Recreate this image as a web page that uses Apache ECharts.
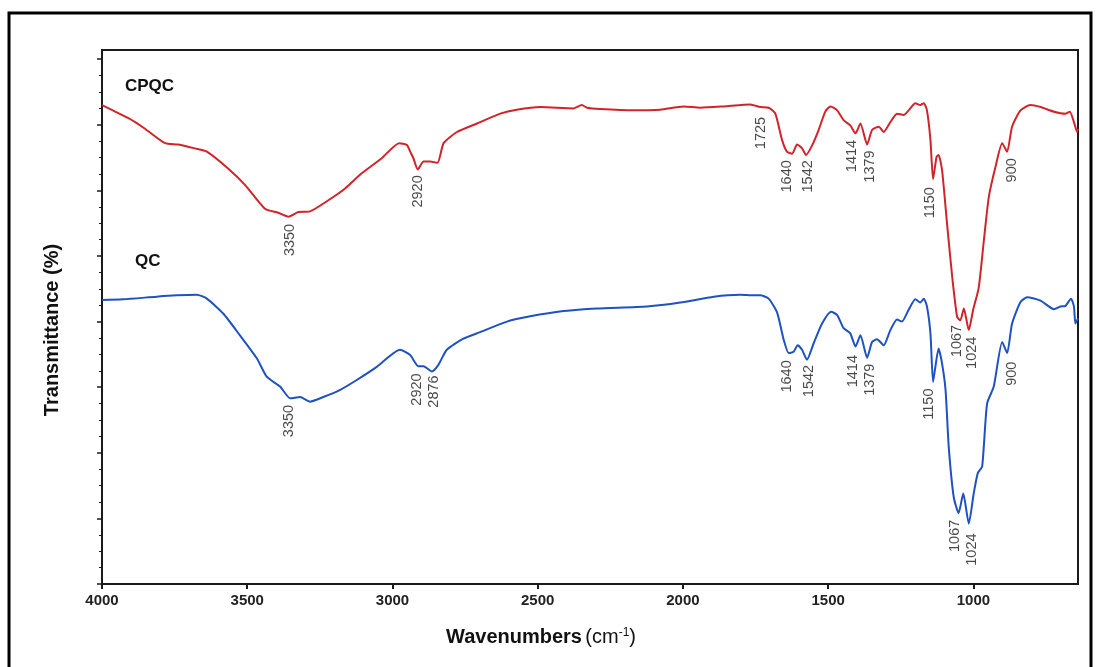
<!DOCTYPE html>
<html>
<head>
<meta charset="utf-8">
<script src="https://cdn.jsdelivr.net/npm/echarts@6/dist/echarts.min.js"></script>
<style>html,body{margin:0;padding:0;background:#fff}#c{width:1099px;height:667px}</style>
</head>
<body>
<div id="c"></div>
<script>
// ---- data (wavenumber cm-1, transmittance in arbitrary % units) ----
const xTicks = [4000, 3500, 3000, 2500, 2000, 1500, 1000];
const yMajorTicks = [0, 10, 20, 30, 40, 50, 60, 70, 80];

const cpqcSpectrum = [
  [4000,73.0],[3909,71.0],[3852,69.4],[3783,67.2],[3737,67.0],[3680,66.4],[3639,65.9],[3565,63.3],
  [3507,60.8],[3439,57.2],[3393,56.6],[3358,56.0],[3324,56.7],[3284,56.8],[3221,58.5],[3163,60.3],
  [3106,62.6],[3037,64.9],[2977,67.2],[2950,66.9],[2939,65.9],[2928,64.9],[2913,63.2],[2893,64.4],
  [2870,64.4],[2845,64.2],[2824,67.2],[2778,68.9],[2709,70.2],[2629,71.7],[2572,72.3],[2491,72.7],
  [2377,72.5],[2348,73.0],[2330,72.6],[2285,72.4],[2170,72.2],[2078,72.3],[1998,72.8],[1940,72.6],
  [1860,72.8],[1768,73.1],[1734,72.7],[1705,72.6],[1682,71.7],[1659,67.7],[1642,65.9],[1624,65.6],
  [1607,67.0],[1590,66.4],[1576,65.4],[1555,66.9],[1533,69.2],[1510,72.0],[1492,72.8],[1469,72.2],
  [1447,70.7],[1424,69.9],[1406,68.7],[1389,70.2],[1366,67.0],[1349,69.2],[1326,69.7],[1309,68.9],
  [1286,70.4],[1263,71.7],[1240,71.5],[1223,72.2],[1200,73.3],[1183,73.0],[1171,73.3],[1160,72.2],
  [1148,67.7],[1139,61.7],[1127,65.1],[1120,65.4],[1108,63.1],[1091,55.0],[1073,46.8],[1056,40.7],
  [1045,40.2],[1033,42.0],[1016,38.7],[1001,41.8],[982,45.1],[964,52.4],[947,59.0],[924,63.6],
  [901,67.2],[884,65.9],[867,69.7],[838,72.2],[804,73.0],[769,72.7],[723,72.0],[683,71.7],
  [668,72.0],[654,70.4],[643,68.9],[640,69.4]
];

const qcSpectrum = [
  [4000,43.3],[3927,43.4],[3812,43.8],[3743,44.0],[3674,44.1],[3639,43.5],[3582,41.2],[3525,37.9],
  [3467,34.4],[3433,31.6],[3387,30.1],[3352,28.3],[3318,28.5],[3284,27.8],[3238,28.5],[3180,29.6],
  [3123,31.1],[3054,33.1],[2974,35.7],[2939,34.9],[2911,33.2],[2893,33.2],[2864,32.4],[2842,33.4],
  [2813,35.7],[2756,37.4],[2698,38.4],[2606,40.0],[2526,40.8],[2411,41.6],[2296,42.0],[2124,42.3],
  [2009,42.9],[1894,43.8],[1802,44.1],[1757,44.0],[1734,44.0],[1705,43.5],[1676,41.4],[1653,37.2],
  [1636,35.2],[1619,35.4],[1605,36.4],[1590,35.7],[1573,34.2],[1550,36.7],[1521,39.7],[1490,41.5],
  [1469,41.0],[1447,39.0],[1424,38.2],[1406,36.2],[1389,37.9],[1366,34.5],[1349,36.9],[1332,37.3],
  [1309,36.4],[1286,38.7],[1263,40.3],[1246,40.0],[1223,41.8],[1200,43.4],[1183,42.9],[1171,43.5],
  [1160,42.3],[1148,38.2],[1139,30.8],[1131,33.1],[1120,35.9],[1108,33.6],[1096,29.6],[1085,20.9],
  [1068,13.3],[1051,10.8],[1035,13.8],[1016,9.2],[999,13.8],[985,16.9],[970,17.9],[953,27.5],
  [930,30.1],[901,36.9],[884,35.2],[867,39.7],[838,43.0],[815,43.7],[769,43.2],[723,41.9],
  [700,42.3],[683,42.4],[664,43.5],[654,42.3],[649,39.7],[640,40.5]
];

// peak annotations: [wavenumber position, label top (y units), text]
const cpqcPeaks = [
  [3352,54.9,'3350'],[2913,62.3,'2920'],[1730,71.2,'1725'],[1642,64.6,'1640'],[1571,64.6,'1542'],
  [1417,67.7,'1414'],[1355,66.1,'1379'],[1148,60.5,'1150'],[1056,39.5,'1067'],[1004,37.7,'1024'],
  [867,64.9,'900']
];
const qcPeaks = [
  [3355,27.3,'3350'],[2916,32.1,'2920'],[2856,31.8,'2876'],[1642,34.1,'1640'],[1567,33.4,'1542'],
  [1416,34.9,'1414'],[1355,33.6,'1379'],[1154,29.8,'1150'],[1062,9.8,'1067'],[1004,7.7,'1024'],
  [867,33.9,'900']
];
const seriesNames = ['CPQC', 'QC'];

// ---- chart ----
const FONT = '"Liberation Sans", Arial, Helvetica, sans-serif';
const AX = '#1a1a1a';
const chart = echarts.init(document.getElementById('c'), null, {renderer: 'canvas'});

function peakSeries(peaks) {
  return {
    type: 'scatter',
    silent: true,
    symbolSize: 1,
    itemStyle: {color: 'rgba(0,0,0,0)'},
    data: peaks.map(p => ({value: [p[0], p[1]], name: p[2]})),
    label: {
      show: true,
      position: 'inside',
      rotate: 90,
      align: 'right',
      verticalAlign: 'middle',
      formatter: '{b}',
      color: '#1a1a1a',
      fontSize: 14.5,
      fontFamily: FONT
    },
    z: 5
  };
}

const option = {
  animation: false,
  backgroundColor: '#fff',
  grid: {left: 102, top: 50, right: 21, bottom: 83, show: true, borderColor: AX, borderWidth: 2, backgroundColor: 'transparent'},
  xAxis: {
    type: 'value', inverse: true, min: 640, max: 4000,
    axisLine: {show: true, onZero: false, lineStyle: {color: AX, width: 2}},
    axisTick: {show: true, customValues: xTicks, length: 5, lineStyle: {color: AX, width: 2}},
    axisLabel: {customValues: xTicks, formatter: v => String(v), color: '#222', fontWeight: 'bold', fontSize: 15, fontFamily: FONT, margin: 9},
    splitLine: {show: false}
  },
  yAxis: {
    type: 'value', min: 0, max: 81.4, interval: 10,
    axisLine: {show: true, onZero: false, lineStyle: {color: AX, width: 2}},
    axisTick: {show: true, customValues: yMajorTicks, length: 5, lineStyle: {color: AX, width: 1.5}},
    minorTick: {show: true, splitNumber: 4, length: 3, lineStyle: {color: AX, width: 1}},
    axisLabel: {show: false},
    splitLine: {show: false}
  },
  graphic: [
    {type: 'rect', silent: true, shape: {x: 9, y: 13, width: 1082, height: 700},
     style: {fill: 'none', stroke: '#000', lineWidth: 3}},
    {type: 'text', silent: true, x: 125, y: 86,
     style: {text: seriesNames[0], fontSize: 17, fontWeight: 'bold', fontFamily: FONT, fill: '#111', align: 'left', verticalAlign: 'middle'}},
    {type: 'text', silent: true, x: 135, y: 261,
     style: {text: seriesNames[1], fontSize: 17, fontWeight: 'bold', fontFamily: FONT, fill: '#111', align: 'left', verticalAlign: 'middle'}},
    {type: 'text', silent: true, x: 52, y: 330, rotation: Math.PI / 2,
     style: {text: 'Transmittance (%)', fontSize: 20, fontWeight: 'bold', fontFamily: FONT, fill: '#111', align: 'center', verticalAlign: 'middle'}},
    {type: 'text', silent: true, x: 541, y: 637,
     style: {
       text: '{b|Wavenumbers} {n|(cm}{s|-1}{n|)}',
       align: 'center', verticalAlign: 'middle', fill: '#111',
       rich: {
         b: {fontSize: 20, fontWeight: 'bold', fontFamily: FONT, fill: '#111'},
         n: {fontSize: 20, fontFamily: FONT, fill: '#111'},
         s: {fontSize: 12, fontFamily: FONT, fill: '#111', verticalAlign: 'top'}
       }
     }}
  ],
  series: [
    {type: 'line', name: seriesNames[0], data: cpqcSpectrum, symbol: 'none', smooth: 0.2, silent: true,
     lineStyle: {color: '#d1242a', width: 2}, z: 3},
    {type: 'line', name: seriesNames[1], data: qcSpectrum, symbol: 'none', smooth: 0.2, silent: true,
     lineStyle: {color: '#1f52c0', width: 2}, z: 3},
    peakSeries(cpqcPeaks),
    peakSeries(qcPeaks)
  ]
};
chart.setOption(option);
</script>
</body>
</html>
